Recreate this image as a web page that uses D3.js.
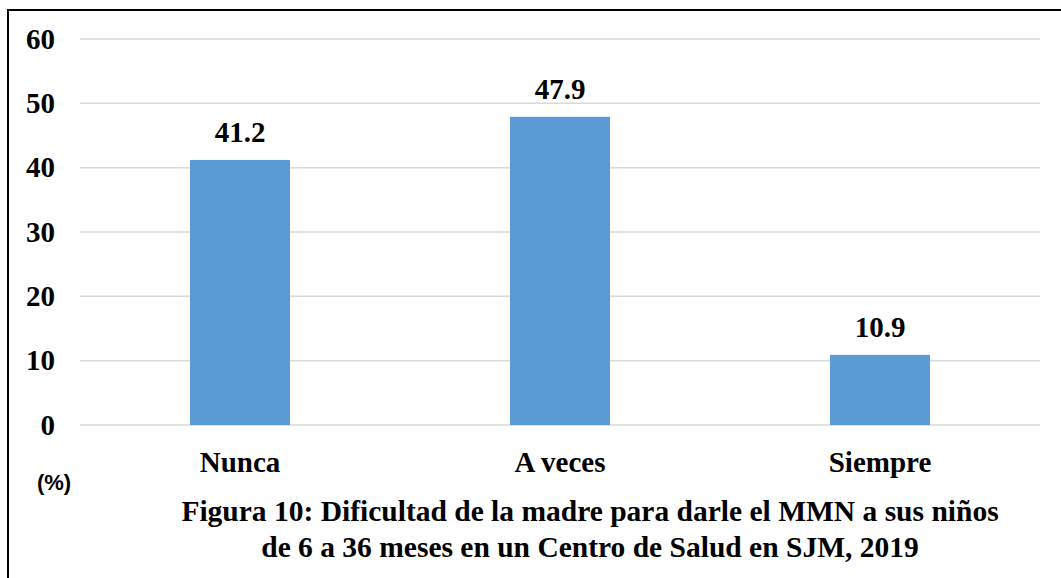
<!DOCTYPE html>
<html>
<head>
<meta charset="utf-8">
<script src="https://cdn.jsdelivr.net/npm/d3@7"></script>
<style>
  body { margin: 0; background: #fff; }
  svg { display: block; }
</style>
</head>
<body>
<svg id="chart"></svg>
<script>
const categories = ['Nunca', 'A veces', 'Siempre'];
const values = [41.2, 47.9, 10.9];
const yTicks = [0, 10, 20, 30, 40, 50, 60];
const titleLines = [
    'Figura 10: Dificultad de la madre para darle el MMN a sus niños',
    'de 6 a 36 meses en un Centro de Salud en SJM, 2019'
];

const width = 1061, height = 578;
const margin = {top: 39, right: 21, bottom: 153, left: 80};
const innerW = width - margin.left - margin.right;
const innerH = height - margin.top - margin.bottom;
const serif = "'Liberation Serif'";

const svg = d3.select('#chart')
    .attr('width', width)
    .attr('height', height);

// frame
svg.append('rect')
    .attr('x', 8).attr('y', 10)
    .attr('width', width + 10).attr('height', height + 10)
    .attr('fill', 'none')
    .attr('stroke', '#000')
    .attr('stroke-width', 2);

const chart = svg.append('g')
    .attr('transform', `translate(${margin.left}, ${margin.top})`);

const xscale = d3.scaleBand()
    .domain(categories)
    .range([0, innerW])
    .paddingInner(0.6875)
    .paddingOuter(0.34375);

const yscale = d3.scaleLinear()
    .domain([0, 60])
    .range([innerH, 0]);

// gridlines
chart.append('g')
    .selectAll('line')
    .data(yTicks)
    .join('line')
    .attr('x1', 0).attr('x2', innerW)
    .attr('y1', d => yscale(d)).attr('y2', d => yscale(d))
    .attr('stroke', '#d9d9d9')
    .attr('stroke-width', 1.5);

// y axis
const yaxis = d3.axisLeft(yscale).tickValues(yTicks).tickSize(0).tickPadding(25);
const yg = chart.append('g').call(yaxis);
yg.select('.domain').remove();
yg.selectAll('text')
    .style('font-family', serif)
    .style('font-weight', 'bold')
    .style('font-size', '29px')
    .attr('fill', '#000');

// bars
chart.selectAll('rect.bar')
    .data(values)
    .join('rect')
    .attr('class', 'bar')
    .attr('x', (d, i) => xscale(categories[i]))
    .attr('y', d => yscale(d))
    .attr('width', xscale.bandwidth())
    .attr('height', d => innerH - yscale(d))
    .attr('fill', '#5b9bd5');

// value labels
chart.selectAll('text.val')
    .data(values)
    .join('text')
    .attr('class', 'val')
    .attr('x', (d, i) => xscale(categories[i]) + xscale.bandwidth() / 2)
    .attr('y', d => yscale(d) - 18)
    .attr('text-anchor', 'middle')
    .style('font-family', serif)
    .style('font-weight', 'bold')
    .style('font-size', '29px')
    .text(d => d.toFixed(1));

// x axis
const xaxis = d3.axisBottom(xscale).tickSize(0).tickPadding(26);
const xg = chart.append('g')
    .attr('transform', `translate(0, ${innerH})`)
    .call(xaxis);
xg.select('.domain').remove();
xg.selectAll('text')
    .style('font-family', serif)
    .style('font-weight', 'bold')
    .style('font-size', '29px')
    .attr('fill', '#000');

// unit label
svg.append('text')
    .attr('x', 54)
    .attr('y', 490)
    .attr('text-anchor', 'middle')
    .style('font-family', "'Liberation Sans'")
    .style('font-weight', 'bold')
    .style('font-size', '22px')
    .text('(%)');

// title
svg.append('g')
    .selectAll('text')
    .data(titleLines)
    .join('text')
    .attr('x', 590)
    .attr('y', (d, i) => 521 + i * 36)
    .attr('text-anchor', 'middle')
    .style('font-family', serif)
    .style('font-weight', 'bold')
    .style('font-size', '29.5px')
    .text(d => d);
</script>
</body>
</html>
